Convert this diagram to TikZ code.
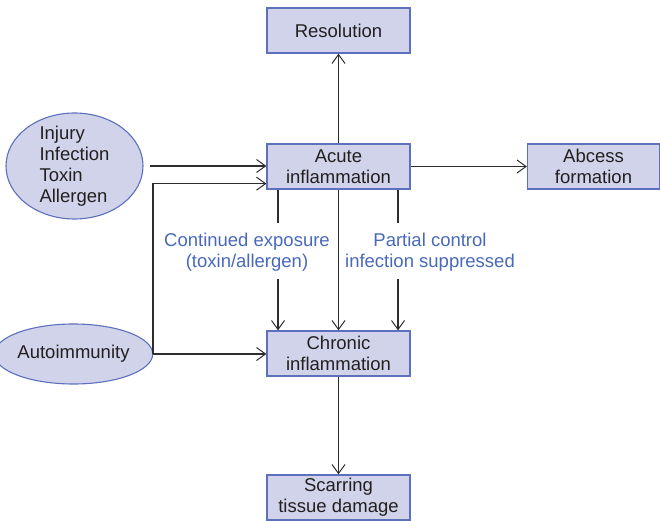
\documentclass[tikz,border=0pt]{standalone}
\usepackage{fontspec}
\setmainfont{Liberation Sans}
\usetikzlibrary{arrows.meta,shapes.geometric}
\definecolor{boxfill}{RGB}{209,211,234}
\definecolor{boxline}{RGB}{92,112,188}
\definecolor{txt}{RGB}{35,31,32}
\definecolor{bluetxt}{RGB}{72,104,186}
\definecolor{ln}{RGB}{45,45,45}
\begin{document}
\begin{tikzpicture}[x=1pt,y=-1pt,
  every node/.style={font=\fontsize{18.5}{21}\selectfont, text=txt},
  box/.style={draw=boxline, fill=boxfill, line width=1.3pt, minimum width=143pt, minimum height=45pt, align=center, inner sep=0pt},
  oval/.style={draw=boxline, fill=boxfill, line width=1.1pt, ellipse, inner sep=0pt},
  lbl/.style={text=bluetxt, align=center, inner sep=0pt},
  arr/.style={draw=ln, line width=1.1pt, -{Straight Barb[length=9pt,width=13pt,line width=1pt]}},
  ln/.style={draw=ln, line width=1.1pt}]
\useasboundingbox (0,0) rectangle (660,521);
\node[box] (res) at (338.5,30.5) {Resolution};
\node[box] (acute) at (338.5,166.5) {Acute\\inflammation};
\node[box, minimum width=132pt] (abc) at (593.5,166.5) {Abcess\\formation};
\node[box] (chr) at (338.5,353.5) {Chronic\\inflammation};
\node[box] (scar) at (338.5,497.5) {Scarring\\tissue damage};
\node[oval, minimum width=137pt, minimum height=106pt] (inj) at (74.5,166) {};
\node[align=left, inner sep=0pt] at (inj.center) {Injury\\Infection\\Toxin\\Allergen};
\node[oval, minimum width=139pt, minimum height=60pt] (auto) at (73.5,354) {Autoimmunity};
\node[lbl] (cont) at (247,252) {Continued exposure\\(toxin/allergen)};
\node[lbl] (part) at (430,252) {Partial control\\infection suppressed};
\coordinate (la) at (278,223);
\coordinate (lb) at (278,279);
\coordinate (ra) at (398,223);
\coordinate (rb) at (398,279);
\coordinate (j) at (153,354);
% connectors
\draw[arr] (acute.north) -- (res.south);
\draw[arr] (acute.east |- abc.west) -- (abc.west);
\draw[arr] ([xshift=6]inj.east) -- (inj.east -| acute.west);
\draw[arr] (auto.east) -- (auto.east -| chr.west);
\draw[ln] (j) |- ([yshift=6]acute.south west);
\draw[arr] ([yshift=6]acute.south west -| j) -- ([yshift=6]acute.south west);
\draw[arr] (acute.south) -- (chr.north);
\draw[ln] (acute.south -| la) -- (la);
\draw[arr] (lb) -- (chr.north -| lb);
\draw[ln] (acute.south -| ra) -- (ra);
\draw[arr] (rb) -- (chr.north -| rb);
\draw[arr] (chr.south) -- (scar.north);
\end{tikzpicture}
\end{document}
